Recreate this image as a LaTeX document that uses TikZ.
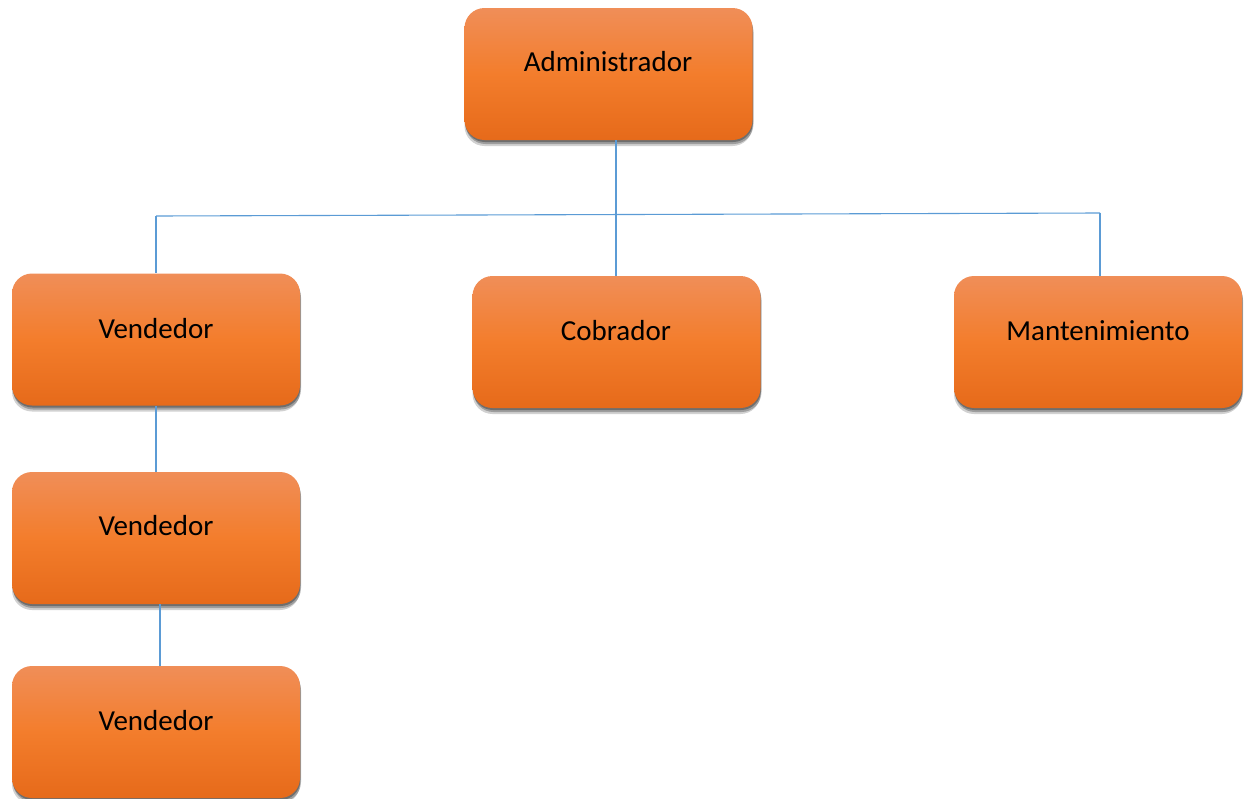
\documentclass[tikz,border=0pt]{standalone}
\usepackage{fontspec}
\setmainfont{Carlito}
\usetikzlibrary{shadows}
\definecolor{otop}{RGB}{240,142,88}
\definecolor{omid}{RGB}{243,125,44}
\definecolor{obot}{RGB}{230,106,26}
\definecolor{conn}{RGB}{91,155,213}
\tikzset{
  orgbox/.style={rectangle, rounded corners=20pt, minimum width=288pt, minimum height=132pt,
    top color=otop, bottom color=obot, middle color=omid, draw=none,
    drop shadow={opacity=0.18, shadow xshift=0pt, shadow yshift=-6pt, fill=black},
    drop shadow={opacity=0.25, shadow xshift=1pt, shadow yshift=-4pt, fill=black},
    drop shadow={opacity=0.3, shadow xshift=0.5pt, shadow yshift=-2pt, fill=black}},
  orgtext/.style={font=\fontsize{29}{34}\selectfont, text=black},
  link/.style={draw=conn, line width=1.1pt}
}
\begin{document}
\begin{tikzpicture}[x=1pt,y=-1pt]
\useasboundingbox (0,0) rectangle (1253,798);
\node[orgbox] (admin) at (608.5,74) {};
\node[orgtext] (admint) at (608,62) {Administrador};
\node[orgbox] (v1) at (156,339.5) {};
\node[orgtext] (v1t) at (156,329) {Vendedor};
\node[orgbox] (cob) at (616.5,342) {};
\node[orgtext] (cobt) at (616,331) {Cobrador};
\node[orgbox] (mant) at (1098,342) {};
\node[orgtext] (mantt) at (1098,331) {Mantenimiento};
\node[orgbox] (v2) at (156,538) {};
\node[orgtext] (v2t) at (156,526) {Vendedor};
\node[orgbox] (v3) at (156,732) {};
\node[orgtext] (v3t) at (156,721) {Vendedor};
\coordinate (hl) at (156,216);
\coordinate (hr) at (1100,213);
\draw[link] (admin.south -| 616,0) -- (cob.north -| 616,0);
\draw[link] (hl) -- (hr);
\draw[link] (hl) -- (v1.north -| hl);
\draw[link] (hr) -- (mant.north -| hr);
\draw[link] (v1.south) -- (v2.north);
\draw[link] (v2.south -| 160,0) -- (v3.north -| 160,0);
\end{tikzpicture}
\end{document}
